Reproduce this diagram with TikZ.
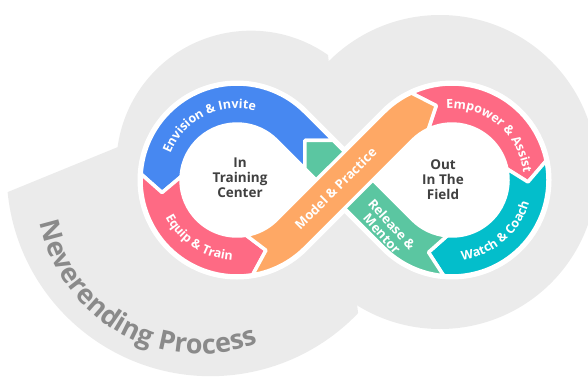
\documentclass[tikz,border=0pt]{standalone}
\usepackage{fontspec}
\setmainfont{Open Sans}
\usetikzlibrary{calc,decorations.text}
\definecolor{cblue}{HTML}{4788F1}
\definecolor{cpink}{HTML}{FE6A84}
\definecolor{corange}{HTML}{FEA865}
\definecolor{cteal}{HTML}{03BECB}
\definecolor{cgreen}{HTML}{5BC6A1}
\definecolor{cbg}{HTML}{EBEBEB}
\definecolor{cnever}{HTML}{8A8A8A}
\definecolor{cdark}{HTML}{404040}
\newcommand\labfont{\fontsize{12.5}{12.5}\selectfont\bfseries\color{white}}
\newcommand\nevfont{\fontsize{27}{27}\selectfont\bfseries\color{cnever}}
\begin{document}
\begin{tikzpicture}[x=1pt,y=1pt,
  seg/.style={draw=white, line width=3.5pt, line join=round},
  ctext/.style={align=center, text=cdark, font=\fontsize{13.5}{15}\selectfont\bfseries},
  wlabel/.style={text=white, align=center, font=\fontsize{13}{13.5}\selectfont\bfseries}]
\useasboundingbox (0,0) rectangle (588,381);
\clip (0,0) rectangle (588,381);
\coordinate (C1) at (237,201);
\coordinate (C2) at (452,201);
\coordinate (M) at (344.5,201);
\coordinate (T) at (200,190);
% gray background
\fill[cbg] (440,209) circle[radius=157];
\fill[cbg] (328,326) arc[start angle=55, end angle=172.3, radius=134.5] -- (7.6,188.9)
  arc[start angle=185.6, end angle=316.3, radius=204] -- cycle;
% white outline of the infinity
\filldraw[white, line width=7pt, line join=round] (344.5,229.28) -- (304.88,268.88)
  arc[start angle=45, end angle=315, radius=96] -- (344.5,172.72) -- (384.12,133.12)
  arc[start angle=-135, end angle=135, radius=96] -- cycle;
% blue
\fill[cblue, seg] (333.18,240.6) -- (304.88,268.88) arc[start angle=45, end angle=176.5, radius=96]
  -- ($(C1)+(189.5:76)$) -- ($(C1)+(176.5:56)$) arc[start angle=176.5, end angle=45, radius=56]
  -- (304.9,212.32) -- (304.9,240.6) -- cycle;
% red
\fill[cpink, seg] ($(C1)+(176.5:96)$) arc[start angle=176.5, end angle=279.4, radius=96]
  -- ($(C1)+(292.4:76)$) -- ($(C1)+(279.4:56)$) arc[start angle=279.4, end angle=176.5, radius=56]
  -- ($(C1)+(189.5:76)$) -- cycle;
% pink
\fill[cpink, seg] ($(C2)+(115:96)$) arc[start angle=115, end angle=11.5, radius=96]
  -- ($(C2)+(-1.5:76)$) -- ($(C2)+(11.5:56)$) arc[start angle=11.5, end angle=115, radius=56]
  -- ($(C2)+(102:76)$) -- cycle;
% teal
\fill[cteal, seg] ($(C2)+(11.5:96)$) arc[start angle=11.5, end angle=-95, radius=96]
  -- ($(C2)+(-108:76)$) -- ($(C2)+(-95:56)$) arc[start angle=-95, end angle=11.5, radius=56]
  -- ($(C2)+(-1.5:76)$) -- cycle;
% green
\fill[cgreen, seg] ($(C2)+(-95:96)$) arc[start angle=-95, end angle=-135, radius=96]
  -- (304.9,212.32) -- (304.9,240.6) -- (333.18,240.6) -- (412.4,161.4)
  arc[start angle=-135, end angle=-95, radius=56] -- ($(C2)+(-108:76)$) -- cycle;
% orange
\fill[corange, seg] ($(C1)+(279.4:96)$) arc[start angle=279.4, end angle=315, radius=96]
  -- (412.4,240.6) arc[start angle=135, end angle=115, radius=56]
  -- ($(C2)+(102:76)$) -- ($(C2)+(115:96)$) arc[start angle=115, end angle=135, radius=96]
  -- (276.6,161.4) arc[start angle=315, end angle=279.4, radius=56]
  -- ($(C1)+(292.4:76)$) -- cycle;
% curved labels
\path[decorate, decoration={text along path, text align=center, text={|\labfont|Envision {\&} Invite}}]
  ($(C1)+(170:71.5)$) arc[start angle=170, end angle=64, radius=71.5];
\path[decorate, decoration={text along path, text align=center, text={|\labfont|Equip {\&} Train}}]
  ($(C1)+(187:80.5)$) arc[start angle=187, end angle=287, radius=80.5];
\path[decorate, decoration={text along path, text align=center, text={|\labfont|Empower {\&} Assist}}]
  ($(C2)+(101:71.5)$) arc[start angle=101, end angle=-1, radius=71.5];
\path[decorate, decoration={text along path, text align=center, text={|\labfont|Watch {\&} Coach}}]
  ($(C2)+(-99:80.5)$) arc[start angle=-99, end angle=0, radius=80.5];
\path[decorate, decoration={text along path, text align=center, text={|\nevfont|Neverending Process}}]
  ($(T)+(150:163)$) arc[start angle=150, end angle=332, radius=163];
% straight labels
\node[wlabel, rotate=45] (mp) at (335.5,192.5) {Model \& Practice};
\node[wlabel, rotate=-48] (rm) at (387,152) {Release \&\\Mentor};
% centre texts
\node[ctext] (tc) at (240,203) {In\\Training\\Center};
\node[ctext] (of) at (443,201) {Out\\In The\\Field};
\end{tikzpicture}
\end{document}
